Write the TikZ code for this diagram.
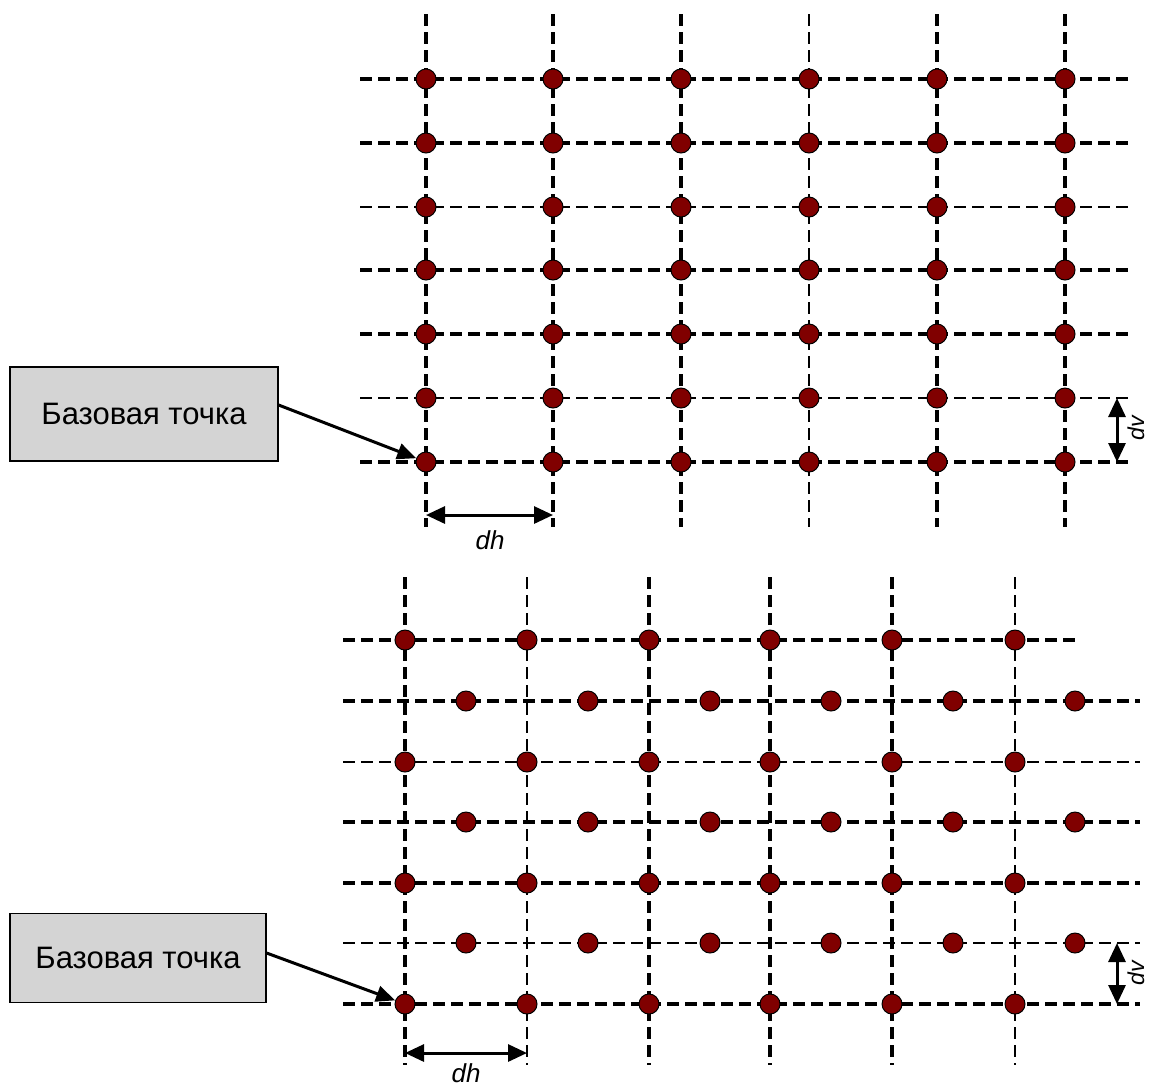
\documentclass[tikz,border=0pt]{standalone}
\usepackage{fontspec}
\setmainfont{Liberation Sans}
\usetikzlibrary{arrows.meta}
\definecolor{dotred}{RGB}{128,0,0}
\definecolor{boxgray}{RGB}{212,212,212}
\tikzset{
  thickdash/.style={line width=4pt, dash pattern=on 12pt off 6pt},
  thindash/.style={line width=1.6pt, dash pattern=on 12pt off 6pt},
  gdot/.style={circle, fill=dotred, draw=black, line width=1pt, minimum size=20pt, inner sep=0pt},
  labelbox/.style={rectangle, fill=boxgray, draw=black, line width=1.2pt, inner sep=0pt, font=\fontsize{31}{34}\selectfont},
  dimarrow/.style={line width=3pt, {Triangle[length=19pt,width=17pt]}-{Triangle[length=19pt,width=17pt]}},
  ptrarrow/.style={line width=3pt, -{Triangle[length=19pt,width=16pt]}},
  dimlabel/.style={font=\fontsize{26}{28}\selectfont\itshape, inner sep=0pt},
  vlabel/.style={font=\fontsize{23}{25}\selectfont\itshape, inner sep=0pt, rotate=90}
}
\begin{document}
\begin{tikzpicture}[x=1pt,y=-1pt]
\useasboundingbox (0,0) rectangle (1150,1088);
% ===== Top grid =====
\foreach \x/\s in {426/thickdash,553/thickdash,681/thickdash,809/thindash,937/thickdash,1065/thickdash}
  \draw[\s] (\x,14) -- (\x,527);
\foreach \y/\s in {79/thickdash,143/thickdash,207/thindash,270/thickdash,334/thickdash,398/thindash,462/thickdash}
  \draw[\s] (360,\y) -- (1130,\y);
\foreach [count=\i] \x in {426,553,681,809,937,1065}
  \foreach [count=\j] \y in {79,143,207,270,334,398,462}
    \node[gdot] (t\i\j) at (\x,\y) {};
\node[labelbox, minimum width=268pt, minimum height=94pt] (box1) at (144,414) {Базовая точка};
\draw[ptrarrow] (box1.east) ++(0,-9) coordinate (b1s) -- (t17);
\coordinate (dh1a) at (426,515);
\coordinate (dh1b) at (553,515);
\draw[dimarrow] (dh1a) -- (dh1b);
\node[dimlabel] (dhl1) at (490,540) {dh};
\coordinate (dv1a) at (1117,398);
\coordinate (dv1b) at (1117,462);
\draw[dimarrow] (dv1a) -- (dv1b);
\node[vlabel] (dvl1) at (1136,428) {dv};
% ===== Bottom grid =====
\foreach \x/\s in {405/thickdash,527/thindash,649/thickdash,770/thickdash,892/thickdash,1015/thindash}
  \draw[\s] (\x,577) -- (\x,1065);
\draw[thickdash] (343,640) -- (1077,640);
\foreach \y/\s in {701/thickdash,762/thindash,822/thickdash,883/thickdash,943/thindash,1004/thickdash}
  \draw[\s] (343,\y) -- (1140,\y);
\foreach [count=\i] \x in {405,527,649,770,892,1015}
  \foreach [count=\j] \y in {640,762,883,1004}
    \node[gdot] (a\i\j) at (\x,\y) {};
\foreach [count=\i] \x in {466,588,710,831,953,1075}
  \foreach [count=\j] \y in {701,822,943}
    \node[gdot] (c\i\j) at (\x,\y) {};
\node[labelbox, minimum width=256pt, minimum height=89pt] (box2) at (138,958) {Базовая точка};
\draw[ptrarrow] (box2.east) ++(0,-5) coordinate (b2s) -- (a14);
\coordinate (dh2a) at (405,1053);
\coordinate (dh2b) at (527,1053);
\draw[dimarrow] (dh2a) -- (dh2b);
\node[dimlabel] (dhl2) at (466,1073) {dh};
\coordinate (dv2a) at (1117,943);
\coordinate (dv2b) at (1117,1004);
\draw[dimarrow] (dv2a) -- (dv2b);
\node[vlabel] (dvl2) at (1136,973) {dv};
\end{tikzpicture}
\end{document}
